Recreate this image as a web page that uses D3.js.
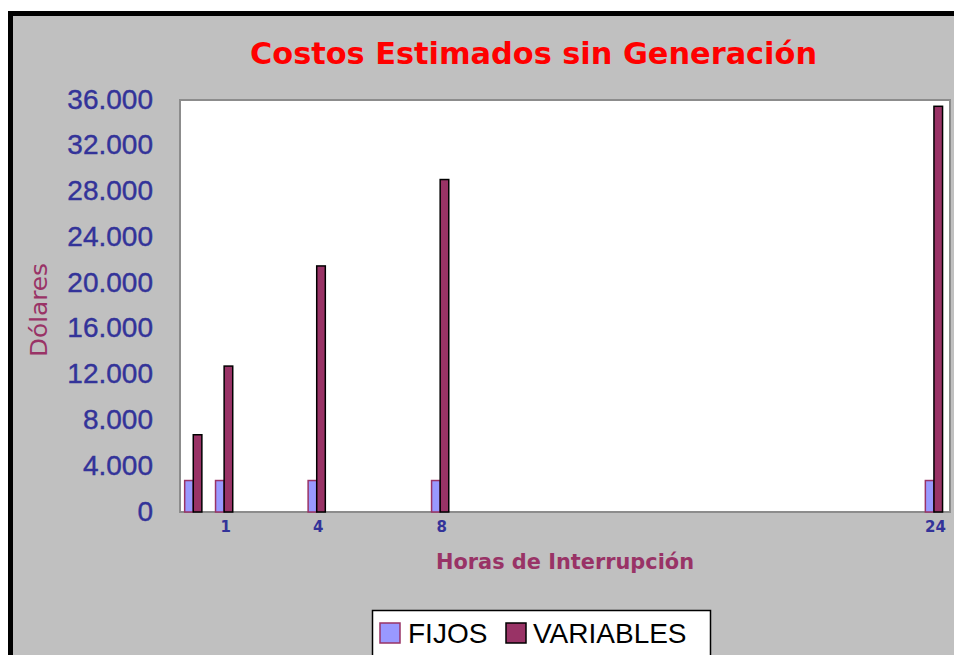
<!DOCTYPE html>
<html>
<head>
<meta charset="utf-8">
<script src="https://cdn.jsdelivr.net/npm/d3@7"></script>
<style>
  body { margin: 0; background: #fff; }
  svg { display: block; }
</style>
</head>
<body>
<svg id="chart" width="954" height="655"></svg>
<script>
// datos
var horas = [0, 1, 4, 8, 24];
var etiquetasX = [1, 4, 8, 24];
var fijos = [2750, 2750, 2750, 2750, 2750];
var variables = [6750, 12750, 21500, 29050, 35450];
var ticksY = [0, 4000, 8000, 12000, 16000, 20000, 24000, 28000, 32000, 36000];
var series = ["FIJOS", "VARIABLES"];

var COLOR_FIJOS = "#9999ff";
var COLOR_VARIABLES = "#993366";
var BAR_W = 8.6;

var svg = d3.select("#chart");

// formato con punto como separador de miles
var es = d3.formatLocale({decimal: ",", thousands: ".", grouping: [3], currency: ["$", ""]});
var fmt = es.format(",d");

// fondo del area del grafico
svg.append("rect")
    .attr("x", 10).attr("y", 13)
    .attr("width", 954).attr("height", 660)
    .attr("fill", "#c0c0c0");
svg.append("path")
    .attr("d", "M10.5,700 V13.5 H960")
    .attr("fill", "none")
    .attr("stroke", "#000")
    .attr("stroke-width", 5);

var plot = {left: 180, right: 950, top: 100, bottom: 512};

var x = d3.scaleLinear().domain([-0.43, 24.52]).range([plot.left, plot.right]);
var y = d3.scaleLinear().domain([0, 36000]).range([plot.bottom, plot.top]);

svg.append("rect")
    .attr("x", plot.left).attr("y", plot.top)
    .attr("width", plot.right - plot.left)
    .attr("height", plot.bottom - plot.top)
    .attr("fill", "#fff")
    .attr("stroke", "#8c8c8c")
    .attr("stroke-width", 2);

// titulo
svg.append("text")
    .attr("x", 250).attr("y", 64)
    .attr("textLength", 567)
    .attr("lengthAdjust", "spacingAndGlyphs")
    .attr("style", "font: bold 31px 'DejaVu Sans', sans-serif; fill: #ff0000")
    .text("Costos Estimados sin Generación");

// eje Y
var yAxis = d3.axisLeft(y).tickValues(ticksY).tickFormat(fmt).tickSize(0).tickPadding(0);
var gy = svg.append("g")
    .attr("transform", "translate(153,-2)")
    .call(yAxis);
gy.select(".domain").remove();
gy.selectAll("text")
    .attr("dy", "0.36em")
    .attr("style", "font: 28px 'Liberation Sans', Arial, sans-serif; fill: #333399; stroke: #333399; stroke-width: 0.4");

// eje X
var xAxis = d3.axisBottom(x).tickValues(etiquetasX).tickFormat(d3.format("d")).tickSize(0).tickPadding(0);
var gx = svg.append("g")
    .attr("transform", "translate(1," + (plot.bottom + 20) + ")")
    .call(xAxis);
gx.select(".domain").remove();
gx.selectAll("text")
    .attr("dy", 0)
    .attr("style", "font: bold 15px 'DejaVu Sans', sans-serif; fill: #333399");

// barras
var grupos = svg.append("g").selectAll("g")
    .data(horas)
    .join("g");

grupos.append("rect")
    .attr("x", function (d) { return x(d) - BAR_W; })
    .attr("y", function (d, i) { return y(fijos[i]); })
    .attr("width", BAR_W)
    .attr("height", function (d, i) { return y(0) - y(fijos[i]); })
    .attr("fill", COLOR_FIJOS)
    .attr("stroke", COLOR_VARIABLES)
    .attr("stroke-width", 1.5);

grupos.append("rect")
    .attr("x", function (d) { return x(d); })
    .attr("y", function (d, i) { return y(variables[i]); })
    .attr("width", BAR_W)
    .attr("height", function (d, i) { return y(0) - y(variables[i]); })
    .attr("fill", COLOR_VARIABLES)
    .attr("stroke", "#000")
    .attr("stroke-width", 1.5);

// titulos de ejes
svg.append("text")
    .attr("transform", "translate(47,310) rotate(-90)")
    .attr("text-anchor", "middle")
    .attr("textLength", 94)
    .attr("lengthAdjust", "spacingAndGlyphs")
    .attr("style", "font: 23px 'DejaVu Sans', sans-serif; fill: #993366")
    .text("Dólares");

svg.append("text")
    .attr("x", 436).attr("y", 569)
    .attr("textLength", 258)
    .attr("lengthAdjust", "spacingAndGlyphs")
    .attr("style", "font: bold 21px 'DejaVu Sans', sans-serif; fill: #993366")
    .text("Horas de Interrupción");

// leyenda
var leg = svg.append("g");
leg.append("rect")
    .attr("x", 372.5).attr("y", 610.5)
    .attr("width", 338).attr("height", 60)
    .attr("fill", "#fff")
    .attr("stroke", "#000")
    .attr("stroke-width", 1.5);

var legX = [380, 506];
var legTxt = [408, 533];
series.forEach(function (s, i) {
    leg.append("rect")
        .attr("x", legX[i]).attr("y", 623)
        .attr("width", 20).attr("height", 20)
        .attr("fill", i === 0 ? COLOR_FIJOS : COLOR_VARIABLES)
        .attr("stroke", i === 0 ? COLOR_VARIABLES : "#000")
        .attr("stroke-width", 1.5);
    leg.append("text")
        .attr("x", legTxt[i]).attr("y", 643)
        .attr("style", "font: 28px 'Liberation Sans', Arial, sans-serif; fill: #000")
        .text(s);
});
</script>
</body>
</html>
